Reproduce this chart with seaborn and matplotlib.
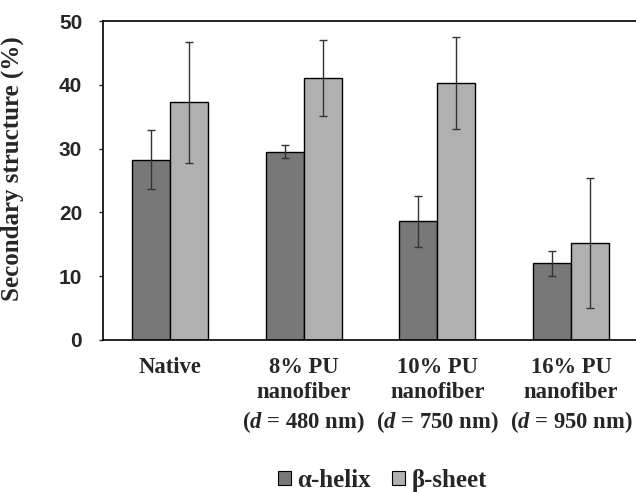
import numpy as np
import pandas as pd
import matplotlib
matplotlib.use("Agg")
import matplotlib.pyplot as plt
import seaborn as sns
from matplotlib.patches import Patch

# Secondary structure content (%) per sample, mean and error
samples = ["Native", "8% PU", "10% PU", "16% PU"]
tick_labels = [
    "Native",
    "8% PU\nnanofiber\n($d$ = 480 nm)",
    "10% PU\nnanofiber\n($d$ = 750 nm)",
    "16% PU\nnanofiber\n($d$ = 950 nm)",
]
structures = ["α-helix", "β-sheet"]
alpha_helix = [28.3, 29.5, 18.6, 12.0]
beta_sheet = [37.3, 41.1, 40.3, 15.2]
alpha_err = [4.7, 1.0, 4.0, 2.0]
beta_err = [9.5, 6.0, 7.2, 10.2]

colors = ["#787878", "#b0b0b0"]

sns.set_style("white")
plt.rcParams["font.family"] = ["Liberation Serif", "DejaVu Serif"]
plt.rcParams["font.weight"] = "bold"
plt.rcParams["mathtext.fontset"] = "custom"
plt.rcParams["mathtext.it"] = "Liberation Serif:italic:bold"
plt.rcParams["mathtext.rm"] = "Liberation Serif:bold"

df = pd.DataFrame({
    "sample": samples * 2,
    "structure": [structures[0]] * 4 + [structures[1]] * 4,
    "value": alpha_helix + beta_sheet,
})

fig = plt.figure(figsize=(6.36, 4.92), dpi=100)
ax = fig.add_axes([0.162, 0.309, 0.841, 0.648])

width = 0.57
sns.barplot(data=df, x="sample", y="value", hue="structure",
            order=samples, hue_order=structures, palette=colors,
            width=width, errorbar=None, edgecolor="black", linewidth=1.0,
            legend=False, ax=ax)

# Error bars centred on each dodged bar
xs = np.arange(len(samples))
for k, (vals, errs) in enumerate([(alpha_helix, alpha_err), (beta_sheet, beta_err)]):
    offset = (k - 0.5) * width / 2
    ax.errorbar(xs + offset, vals, yerr=errs, fmt="none", ecolor="#333333",
                elinewidth=1.0, capsize=3, capthick=1.0)

ax.set_xlim(-0.5, 3.5)
ax.set_ylim(0, 50)
ax.set_yticks([0, 10, 20, 30, 40, 50])
ax.set_yticklabels([str(v) for v in [0, 10, 20, 30, 40, 50]],
                   fontfamily="Liberation Sans", fontweight="bold", fontsize=15)
ax.tick_params(axis="y", direction="out", length=3, width=1, pad=12, left=True)
ax.tick_params(axis="x", length=0, pad=12)
ax.set_xticks(xs)
ax.set_xticklabels(tick_labels, fontsize=16.3, fontweight="bold",
                   linespacing=1.3, va="top")
ax.set_xlabel("")
ax.set_ylabel("Secondary structure (%)", fontsize=18, fontweight="bold")
ax.yaxis.set_label_coords(-0.148, 0.538)

for side in ["left", "top", "bottom"]:
    ax.spines[side].set_visible(True)
    ax.spines[side].set_color("black")
    ax.spines[side].set_linewidth(1.2)
ax.spines["right"].set_visible(False)

handles = [Patch(facecolor=c, edgecolor="black", linewidth=0.8) for c in colors]
fig.legend(handles, structures, loc="center", bbox_to_anchor=(0.601, 0.024),
           ncol=2, frameon=False, handlelength=0.52, handleheight=0.52,
           handletextpad=0.25, columnspacing=0.85,
           prop={"family": "Liberation Serif", "weight": "bold", "size": 18})

fig.savefig("out.png", dpi=100)
